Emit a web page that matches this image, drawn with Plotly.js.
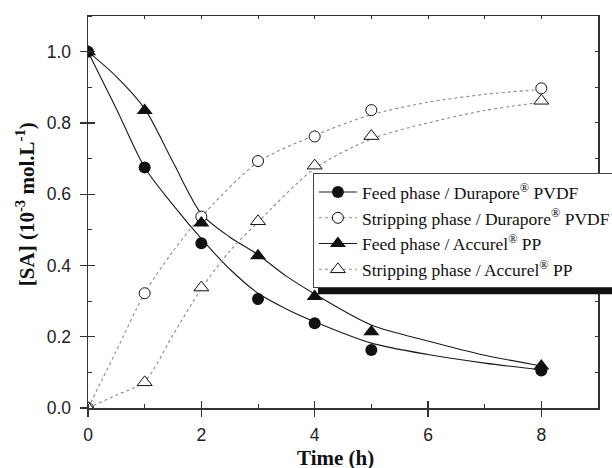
<!DOCTYPE html>
<html>
<head>
<meta charset="utf-8">
<script src="https://cdn.plot.ly/plotly-3.0.1.min.js"></script>
<style>html,body{margin:0;padding:0;background:#fff;}#chart{width:612px;height:468px;}</style>
</head>
<body>
<div id="chart"></div>
<script>
// Measured data points
const timeH = [0, 1, 2, 3, 4, 5, 8];
const feedDurapore = [1.0, 0.675, 0.462, 0.306, 0.238, 0.163, 0.105];
const stripDurapore = [0.0, 0.322, 0.537, 0.693, 0.762, 0.836, 0.897];
const feedAccurel = [1.0, 0.835, 0.519, 0.427, 0.313, 0.214, 0.118];
const stripAccurel = [0.0, 0.072, 0.338, 0.524, 0.68, 0.763, 0.862];

// Fitted curves
const fitFeedDuraporeX = [0, 0.5, 1, 1.5, 2, 2.5, 3, 3.5, 4, 5, 6, 7, 8];
const fitFeedDuraporeY = [1.0, 0.84, 0.675, 0.57, 0.475, 0.39, 0.322, 0.278, 0.242, 0.182, 0.15, 0.126, 0.107];
const fitFeedAccurelX = [0, 0.5, 1, 1.5, 2, 2.5, 3, 3.5, 4, 5, 6, 7, 8];
const fitFeedAccurelY = [1.0, 0.93, 0.84, 0.69, 0.545, 0.48, 0.43, 0.37, 0.32, 0.233, 0.188, 0.148, 0.118];
const fitStripDuraporeX = [0, 0.25, 0.5, 1, 1.5, 2, 3, 4, 5, 6, 7, 8];
const fitStripDuraporeY = [0.0, 0.08, 0.16, 0.322, 0.44, 0.537, 0.69, 0.765, 0.823, 0.858, 0.88, 0.894];
const fitStripAccurelX = [0, 0.5, 1, 1.5, 2, 2.5, 3, 4, 5, 6, 7, 8];
const fitStripAccurelY = [0.0, 0.036, 0.075, 0.205, 0.335, 0.44, 0.522, 0.672, 0.755, 0.8, 0.835, 0.858];

const legendNames = [
  'Feed phase / Durapore<sup>®</sup> PVDF',
  'Stripping phase / Durapore<sup>®</sup> PVDF',
  'Feed phase / Accurel<sup>®</sup> PP',
  'Stripping phase / Accurel<sup>®</sup> PP'
];
const xTitle = 'Time (h)';
const yTitle = '[SA] (10<sup>-3</sup> mol.L<sup>-1</sup>)';

const solidLine = {color: '#1a1a1a', width: 1.1, shape: 'spline', smoothing: 0.8};
const dotLine = {color: '#8a8a8a', width: 1.1, dash: 'dot', shape: 'spline', smoothing: 0.8};

const mFilledCircle = {symbol: 'circle', size: 12, color: '#111', line: {width: 0}};
const mOpenCircle = {symbol: 'circle', size: 11, color: '#fff', line: {width: 1, color: '#111'}};
const mFilledTri = {symbol: 'triangle-up', size: 14, color: '#111', line: {width: 0}};
const mOpenTri = {symbol: 'triangle-up', size: 13, color: '#fff', line: {width: 1, color: '#111'}};

const traces = [
  {x: fitFeedDuraporeX, y: fitFeedDuraporeY, mode: 'lines', line: solidLine, showlegend: false, hoverinfo: 'skip'},
  {x: fitStripDuraporeX, y: fitStripDuraporeY, mode: 'lines', line: dotLine, showlegend: false, hoverinfo: 'skip'},
  {x: fitFeedAccurelX, y: fitFeedAccurelY, mode: 'lines', line: solidLine, showlegend: false, hoverinfo: 'skip'},
  {x: fitStripAccurelX, y: fitStripAccurelY, mode: 'lines', line: dotLine, showlegend: false, hoverinfo: 'skip'},
  {x: timeH, y: feedDurapore, mode: 'markers', marker: mFilledCircle, showlegend: false, cliponaxis: true},
  {x: timeH, y: stripDurapore, mode: 'markers', marker: mOpenCircle, showlegend: false, cliponaxis: true},
  {x: timeH, y: feedAccurel, mode: 'markers', marker: mFilledTri, showlegend: false, cliponaxis: true},
  {x: timeH, y: stripAccurel, mode: 'markers', marker: mOpenTri, showlegend: false, cliponaxis: true},
  // legend entries
  {x: [null], y: [null], mode: 'lines+markers', name: legendNames[0], line: {color: '#1a1a1a', width: 1.1}, marker: mFilledCircle},
  {x: [null], y: [null], mode: 'lines+markers', name: legendNames[1], line: {color: '#8a8a8a', width: 1.1, dash: 'dot'}, marker: mOpenCircle},
  {x: [null], y: [null], mode: 'lines+markers', name: legendNames[2], line: {color: '#1a1a1a', width: 1.1}, marker: mFilledTri},
  {x: [null], y: [null], mode: 'lines+markers', name: legendNames[3], line: {color: '#8a8a8a', width: 1.1, dash: 'dot'}, marker: mOpenTri}
];

const axCol = '#333';
const tickFont = {family: 'Liberation Sans, Arial, sans-serif', size: 17.5, color: '#222'};
const titleFont = {family: 'Liberation Serif, Times New Roman, serif', size: 21, color: '#111', weight: 'bold'};

const layout = {
  width: 612, height: 468,
  margin: {l: 88, r: 14, t: 16, b: 60, autoexpand: false},
  paper_bgcolor: '#fff', plot_bgcolor: '#fff',
  showlegend: true,
  xaxis: {
    range: [0, 9], dtick: 2, tick0: 0, ticks: 'outside', ticklen: 7, tickwidth: 1.3, tickcolor: axCol,
    showline: true, linecolor: axCol, linewidth: 1.5, showgrid: false, zeroline: false,
    tickfont: tickFont, ticklabelstandoff: 3,
    minor: {dtick: 1, ticks: 'inside', ticklen: 4, tickcolor: axCol, tickwidth: 1, showgrid: false}
  },
  xaxis2: {
    overlaying: 'x', anchor: 'y', side: 'bottom', range: [0, 9], dtick: 2, tick0: 0,
    ticks: 'inside', ticklen: 7, tickwidth: 1.3, tickcolor: axCol,
    showticklabels: false, showline: false, showgrid: false, zeroline: false
  },
  xaxis3: {
    overlaying: 'x', anchor: 'y', side: 'top', range: [0, 9], dtick: 1, tick0: 0,
    ticks: 'inside', ticklen: 3, tickwidth: 1, tickcolor: axCol,
    showticklabels: false, showline: true, linecolor: axCol, linewidth: 1.5, showgrid: false, zeroline: false
  },
  yaxis: {
    range: [0, 1.1], dtick: 0.2, tick0: 0, tickformat: '.1f', ticks: 'outside', ticklen: 7, tickwidth: 1.3, tickcolor: axCol,
    showline: true, linecolor: axCol, linewidth: 1.5, showgrid: false, zeroline: false,
    tickfont: tickFont, ticklabelstandoff: 5,
    minor: {dtick: 0.1, ticks: 'inside', ticklen: 4, tickcolor: axCol, tickwidth: 1, showgrid: false}
  },
  yaxis2: {
    overlaying: 'y', anchor: 'x', side: 'left', range: [0, 1.1], dtick: 0.2, tick0: 0,
    ticks: 'inside', ticklen: 7, tickwidth: 1.3, tickcolor: axCol,
    showticklabels: false, showline: false, showgrid: false, zeroline: false
  },
  yaxis3: {
    overlaying: 'y', anchor: 'x', side: 'right', range: [0, 1.1], dtick: 0.1, tick0: 0,
    ticks: 'inside', ticklen: 3, tickwidth: 1, tickcolor: axCol,
    showticklabels: false, showline: true, linecolor: axCol, linewidth: 1.5, showgrid: false, zeroline: false
  },
  legend: {
    x: 0.441, y: 0.599, xanchor: 'left', yanchor: 'top',
    bgcolor: '#fff', bordercolor: '#444', borderwidth: 1,
    font: {family: 'Liberation Serif, Times New Roman, serif', size: 17.5, color: '#111'},
    tracegroupgap: 0, itemwidth: 38
  },
  annotations: [
    {text: xTitle, xref: 'paper', yref: 'paper', x: 0.486, y: -0.128, xanchor: 'center', yanchor: 'middle',
     showarrow: false, font: titleFont},
    {text: yTitle, xref: 'paper', yref: 'paper', x: -0.1235, y: 0.52, xanchor: 'center', yanchor: 'middle',
     textangle: -90, showarrow: false, font: titleFont}
  ],
  shapes: [
    {type: 'rect', xref: 'paper', yref: 'paper', x0: 0.451, x1: 1.1, y0: 0.29, y1: 0.34,
     fillcolor: '#111', line: {width: 0}, layer: 'above'}
  ]
};

// attach overlay axes with invisible dummy traces so they render
traces.push({x: [null], y: [null], xaxis: 'x2', yaxis: 'y2', showlegend: false, hoverinfo: 'skip'});
traces.push({x: [null], y: [null], xaxis: 'x3', yaxis: 'y3', showlegend: false, hoverinfo: 'skip'});

Plotly.newPlot('chart', traces, layout, {staticPlot: true, displayModeBar: false});
</script>
</body>
</html>
